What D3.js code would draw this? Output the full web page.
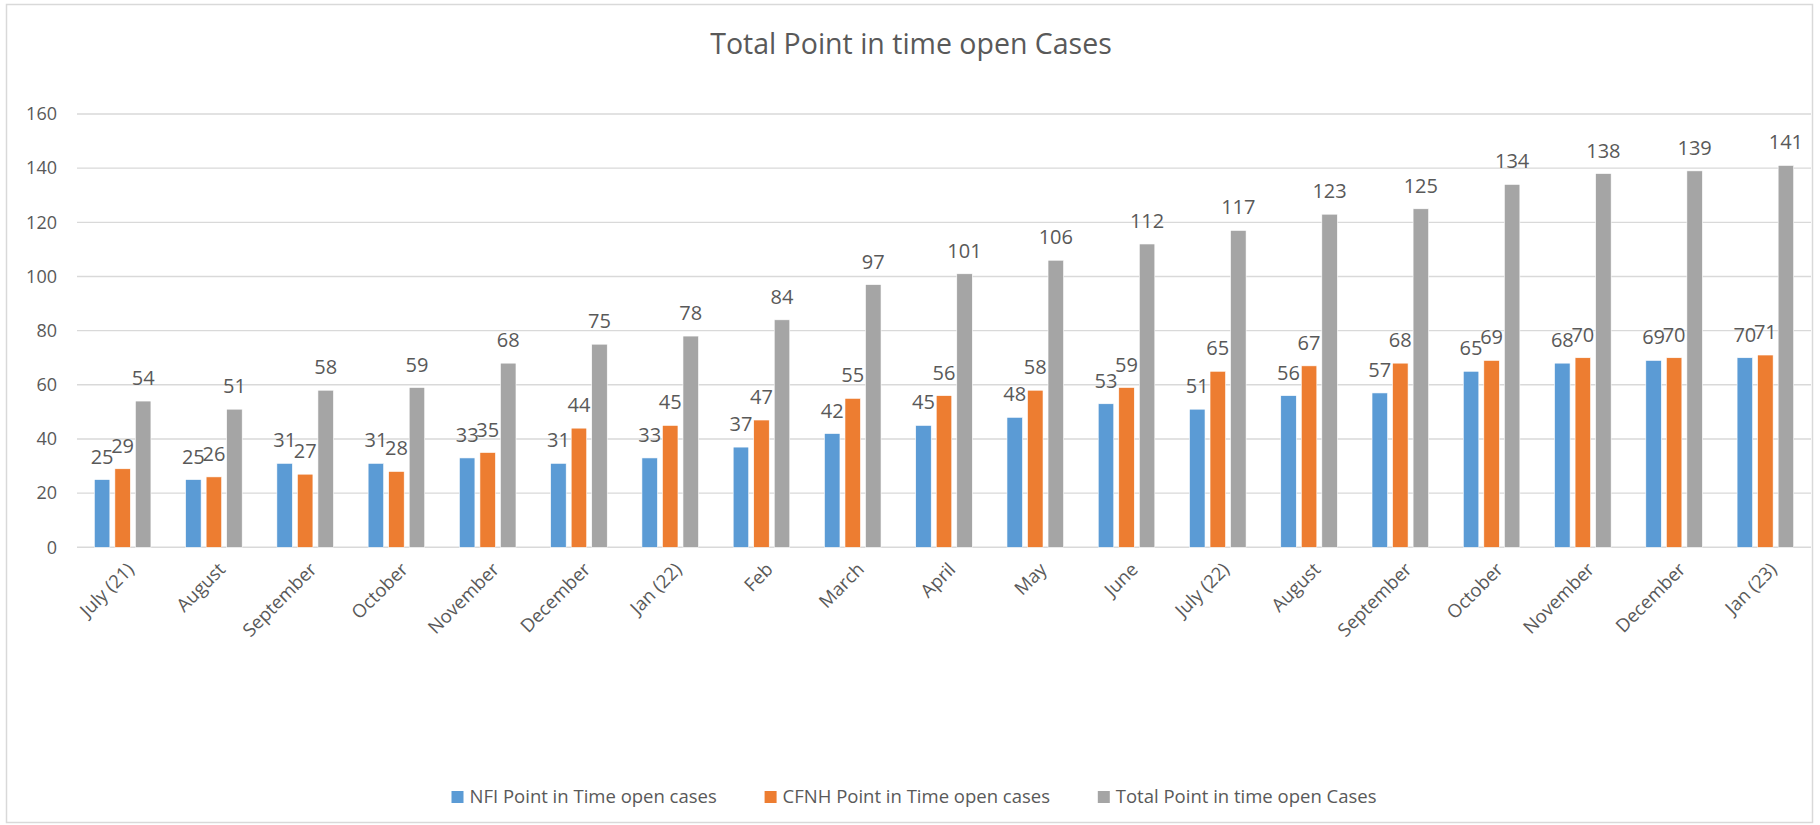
<!DOCTYPE html>
<html>
<head>
<meta charset="utf-8">
<script src="https://cdn.jsdelivr.net/npm/d3@7"></script>
<style>
  html, body { margin: 0; padding: 0; background: #fff; }
  svg { display: block; }
  text { font-family: "Open Sans", "Noto Sans", sans-serif; fill: #595959; }
</style>
</head>
<body>
<svg id="chart" width="1820" height="825"></svg>
<script>
const categories = ["July (21)", "August", "September", "October", "November", "December", "Jan (22)", "Feb", "March", "April", "May", "June", "July (22)", "August", "September", "October", "November", "December", "Jan (23)"];
const seriesNames = ["NFI Point in Time open cases", "CFNH Point in Time open cases", "Total Point in time open Cases"];
const nfiValues = [25, 25, 31, 31, 33, 31, 33, 37, 42, 45, 48, 53, 51, 56, 57, 65, 68, 69, 70];
const cfnhValues = [29, 26, 27, 28, 35, 44, 45, 47, 55, 56, 58, 59, 65, 67, 68, 69, 70, 70, 71];
const totalValues = [54, 51, 58, 59, 68, 75, 78, 84, 97, 101, 106, 112, 117, 123, 125, 134, 138, 139, 141];
const yTicks = [0, 20, 40, 60, 80, 100, 120, 140, 160];
const colors = ["#5B9BD5", "#ED7D31", "#A5A5A5"];
const titleText = "Total Point in time open Cases";

const seriesValues = [nfiValues, cfnhValues, totalValues];
const svg = d3.select("#chart");

// chart border
svg.append("rect").attr("x", 6.5).attr("y", 4.5).attr("width", 1806).attr("height", 818)
  .attr("fill", "#fff").attr("stroke", "#D9D9D9").attr("stroke-width", 1.5);

const plot = { left: 77, right: 1811, top: 114, bottom: 547.3 };

const x = d3.scaleBand().domain(d3.range(categories.length))
  .range([plot.left, plot.right]).paddingInner(0.38).paddingOuter(0.19);
const xs = d3.scaleBand().domain(d3.range(3)).range([0, x.bandwidth()]).paddingInner(0.244).paddingOuter(0);
const y = d3.scaleLinear().domain([0, 160]).range([plot.bottom, plot.top]);

// gridlines
svg.append("g").selectAll("line").data(yTicks).join("line")
  .attr("x1", plot.left).attr("x2", plot.right)
  .attr("y1", d => y(d)).attr("y2", d => y(d))
  .attr("stroke", "#D9D9D9").attr("stroke-width", 1.4);

// y axis labels
const yAxis = d3.axisLeft(y).tickValues(yTicks).tickSize(0).tickPadding(0);
const yg = svg.append("g").attr("transform", `translate(57,0)`).call(yAxis);
yg.select(".domain").remove();
yg.selectAll("text").attr("font-size", 18).style("fill", "#595959")
  .style("font-family", '"Open Sans", sans-serif');

// bars
const groups = svg.append("g").selectAll("g").data(categories).join("g")
  .attr("transform", (d, i) => `translate(${x(i)},0)`);

groups.each(function(cat, i) {
  const g = d3.select(this);
  seriesValues.forEach((vals, s) => {
    g.append("rect")
      .attr("x", xs(s)).attr("width", xs.bandwidth())
      .attr("y", y(vals[i])).attr("height", y(0) - y(vals[i]))
      .attr("fill", colors[s]).attr("stroke", "#fff").attr("stroke-width", 0.6);
  });
  seriesValues.forEach((vals, s) => {
    g.append("text")
      .attr("x", xs(s) + xs.bandwidth() / 2)
      .attr("y", y(vals[i]) - 16)
      .attr("text-anchor", "middle")
      .attr("font-size", 20)
      .text(vals[i]);
  });
});

// x axis labels
const xg = svg.append("g");
xg.selectAll("text").data(categories).join("text")
  .attr("transform", (d, i) => `translate(${x(i) + x.bandwidth() / 2 + 8},566) rotate(-45)`)
  .attr("text-anchor", "end")
  .attr("dy", "0.35em")
  .attr("font-size", 18.5)
  .text(d => d);

// title
svg.append("text").attr("x", 911).attr("y", 54).attr("text-anchor", "middle")
  .attr("font-size", 28.5).text(titleText);

// legend: spread items between the reference's left and right extents
const legendLeft = 451.5, legendRight = 1376.5;
const lg = svg.append("g").selectAll("g").data(seriesNames).join("g");
lg.append("rect").attr("x", 0).attr("y", -6).attr("width", 12).attr("height", 12)
  .attr("fill", (d, i) => colors[i]);
lg.append("text").attr("x", 18).attr("dy", "0.35em").attr("font-size", 18.5).text(d => d);
const widths = [];
lg.each(function() { widths.push(18 + d3.select(this).select("text").node().getComputedTextLength()); });
const gap = (legendRight - legendLeft - d3.sum(widths)) / (widths.length - 1);
let cx = legendLeft;
lg.each(function(d, i) {
  d3.select(this).attr("transform", `translate(${cx},797)`);
  cx += widths[i] + gap;
});
</script>
</body>
</html>
